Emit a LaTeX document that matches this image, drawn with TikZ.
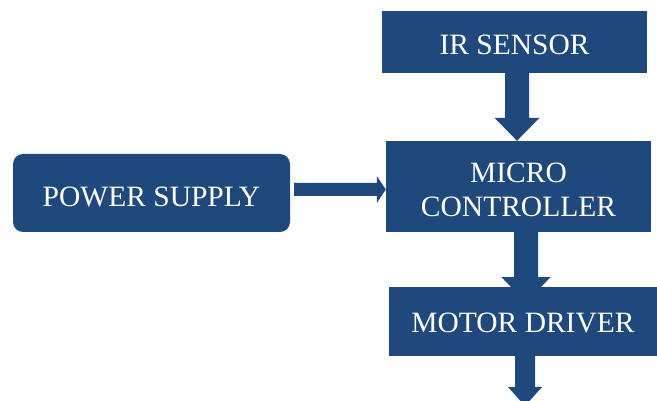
\documentclass[tikz,border=0pt]{standalone}
\usepackage{fontspec}
\setmainfont{Liberation Serif}
\usetikzlibrary{calc}
\definecolor{blkblue}{HTML}{1F497D}
\tikzset{
  blk/.style={fill=blkblue},
  blockbox/.style={rectangle, fill=blkblue, text=white, inner sep=0pt, align=center,
    font=\fontsize{29.5}{34}\selectfont, text depth=0pt},
}
% vertical block arrow: #1 source node, #2 tip point, #3 x centre, #4 shaft width, #5 head width, #6 head length
\newcommand\vblkarrow[6]{%
  \fill[blk] let \p1=(#1.south), \p2=#2 in
    (#3pt-#4pt/2,\y1) -- (#3pt-#4pt/2,\y2+#6pt) -- (#3pt-#5pt/2,\y2+#6pt) -- (#3pt,\y2)
    -- (#3pt+#5pt/2,\y2+#6pt) -- (#3pt+#4pt/2,\y2+#6pt) -- (#3pt+#4pt/2,\y1) -- cycle;}
\begin{document}
\begin{tikzpicture}[x=1pt,y=-1pt]
\clip (0,0) rectangle (657,401);
\fill[white] (0,0) rectangle (657,401);
% nodes
\node[blockbox, minimum width=265pt, minimum height=62pt, text height=25.5pt] (ir) at (514.5,42) {IR SENSOR};
\node[blockbox, minimum width=265pt, minimum height=91pt, text height=40pt, text depth=14.2pt] (micro) at (518.5,186.5)
  {\begin{tabular}{@{}c@{}}MICRO\\CONTROLLER\end{tabular}};
\node[blockbox, minimum width=277pt, minimum height=78pt, rounded corners=10pt, text height=27pt] (power) at (151.5,193) {POWER SUPPLY};
\coordinate (out) at (525,406);
% arrows (drawn behind motor box)
\vblkarrow{ir}{(micro.north)}{517}{24}{45}{23}
\vblkarrow{micro}{($(micro.south)+(0,70)$)}{526}{24}{49}{25}
\vblkarrow{micro}{(out)}{525}{20}{34}{19}
\fill[blk] let \p1=(power.east), \p2=(micro.west) in
  (\x1+4pt,-183pt) -- (\x2-9pt,-183pt) -- (\x2-9pt,-176pt) -- (\x2,-189.5pt)
  -- (\x2-9pt,-203pt) -- (\x2-9pt,-196pt) -- (\x1+4pt,-196pt) -- cycle;
\node[blockbox, minimum width=268pt, minimum height=69pt, text height=23pt] (motor) at (523,321.5) {MOTOR DRIVER};
\end{tikzpicture}
\end{document}
